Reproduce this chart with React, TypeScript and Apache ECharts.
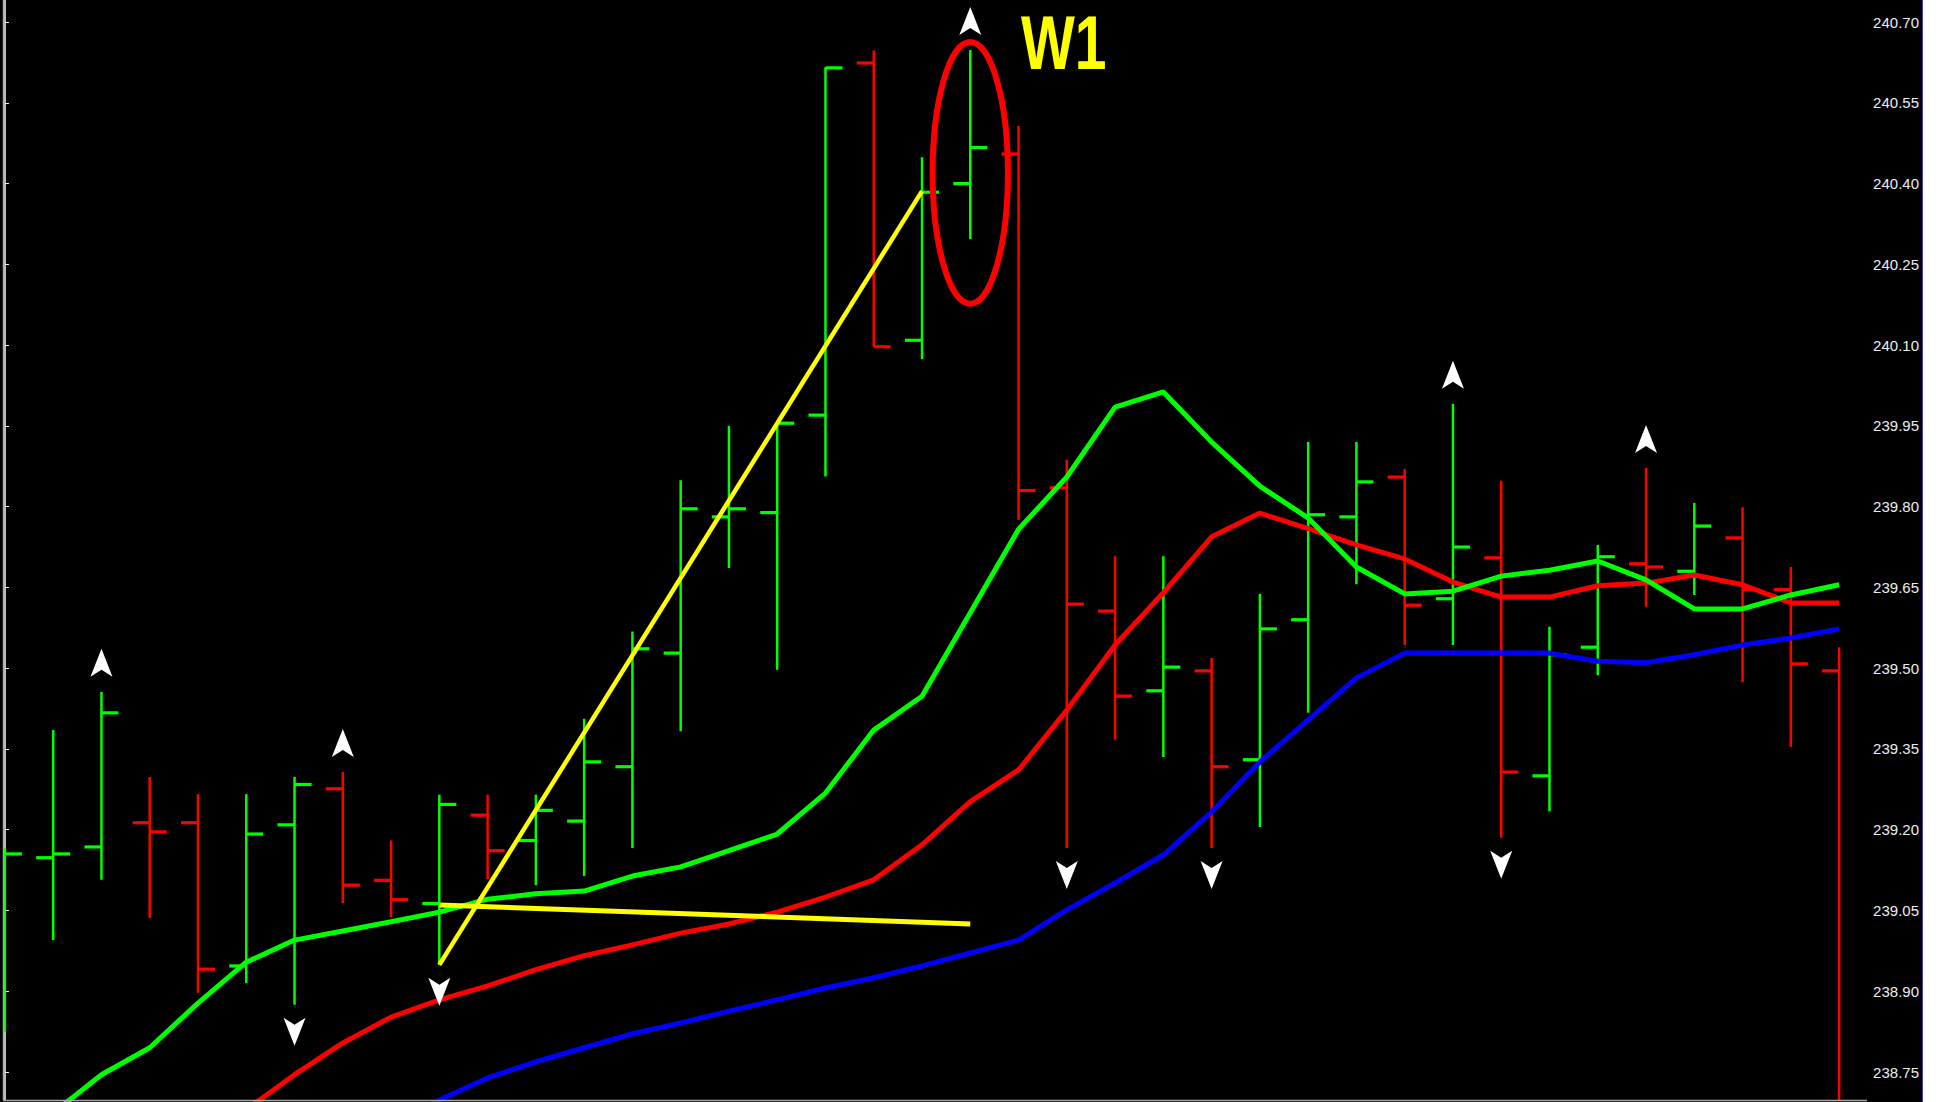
import React, { useEffect, useRef } from "react";
import * as echarts from "echarts";

// ---- data ----
const barOpen = [239.14, 239.148, 239.168, 239.213, 239.213, 238.947, 239.209, 239.276, 239.106, 239.063,
  239.227, 239.18, 239.216, 239.317, 239.528, 239.781, 239.789, 239.97, 240.624, 240.109,
  240.4, 240.455, 239.835, 239.606, 239.458, 239.495, 239.33, 239.59, 239.781, 239.855,
  239.629, 239.705, 239.3, 239.539, 239.694, 239.68, 239.742, 239.646, 239.495];
const barHigh = [239.166, 239.385, 239.456, 239.298, 239.266, 239.266, 239.298, 239.307, 239.18, 239.265,
  239.265, 239.265, 239.406, 239.568, 239.849, 239.95, 239.958, 240.616, 240.647, 240.449,
  240.648, 240.507, 239.887, 239.708, 239.708, 239.519, 239.638, 239.92, 239.92, 239.87,
  239.991, 239.848, 239.577, 239.729, 239.872, 239.807, 239.799, 239.688, 239.539];
const barLow = [238.824, 238.995, 239.107, 239.036, 238.897, 238.915, 238.875, 239.064, 239.038, 238.949,
  239.108, 239.097, 239.114, 239.166, 239.383, 239.686, 239.497, 239.856, 240.097, 240.074,
  240.297, 239.775, 239.166, 239.367, 239.335, 239.166, 239.205, 239.417, 239.656, 239.543,
  239.543, 239.185, 239.234, 239.487, 239.614, 239.636, 239.474, 239.354, 238.6];
const barClose = [239.155, 239.155, 239.417, 239.196, 238.941, 239.192, 239.284, 239.097, 239.07, 239.247,
  239.161, 239.236, 239.326, 239.536, 239.796, 239.796, 239.955, 240.615, 240.097, 240.384,
  240.467, 239.83, 239.619, 239.448, 239.502, 239.317, 239.573, 239.785, 239.846, 239.617,
  239.725, 239.307, 239.525, 239.707, 239.688, 239.764, 239.646, 239.508, 238.62];

const maGreen = [238.605, 238.674, 238.745, 238.795, 238.878, 238.954, 238.995, 239.012, 239.029, 239.047,
  239.071, 239.081, 239.086, 239.114, 239.131, 239.161, 239.192, 239.268, 239.385, 239.448,
  239.603, 239.758, 239.855, 239.985, 240.013, 239.92, 239.838, 239.779, 239.688, 239.638,
  239.643, 239.671, 239.682, 239.699, 239.664, 239.61, 239.61, 239.636, 239.655];
const maRed = [null, null, null, 238.54, 238.609, 238.68, 238.745, 238.804, 238.852, 238.884,
  238.91, 238.94, 238.966, 238.986, 239.008, 239.025, 239.047, 239.075, 239.107, 239.172,
  239.252, 239.311, 239.422, 239.543, 239.64, 239.744, 239.788, 239.759, 239.729, 239.703,
  239.66, 239.632, 239.632, 239.653, 239.658, 239.673, 239.655, 239.621, 239.621];
const maBlue = [null, null, null, null, null, null, null, 238.605, 238.652, 238.698,
  238.739, 238.769, 238.795, 238.821, 238.841, 238.863, 238.884, 238.906, 238.925, 238.947,
  238.971, 238.995, 239.051, 239.101, 239.153, 239.233, 239.326, 239.404, 239.482, 239.528,
  239.528, 239.528, 239.528, 239.513, 239.51, 239.525, 239.543, 239.556, 239.573];

const upFractalBars = [2, 7, 20, 30, 34];
const downFractalBars = [6, 9, 22, 25, 31];

const trendLine = [[9, 238.949], [19, 240.386]];
const flatLine = [[9, 239.06], [20, 239.025]];
const markEllipse = [[20, 240.42, 0.78, 0.243]];
const waveLabel = "W1";

const priceTicks = [240.7, 240.55, 240.4, 240.25, 240.1, 239.95, 239.8, 239.65, 239.5, 239.35, 239.2, 239.05, 238.9, 238.75];

const GREEN = "#00ff00";
const RED = "#ff0000";
const BLUE = "#0000ff";
const YELLOW = "#ffff00";

const UP_ARROW = "path://M10,0 L20,28 L10,21 L0,28 Z";
const DOWN_ARROW = "path://M10,28 L20,0 L10,7 L0,0 Z";

function App() {
  const ref = useRef<HTMLDivElement>(null);
  useEffect(() => {
    if (!ref.current) return;
    const chart = echarts.init(ref.current, null, { renderer: "svg" });
    const ohlc = barOpen.map((o, i) => [i, o, barHigh[i], barLow[i], barClose[i]]);
    const toLine = (arr: (number | null)[]) =>
      arr.map((v, i) => [i, v]).filter((d) => d[1] !== null);

    chart.setOption({
      animation: false,
      backgroundColor: "#000000",
      grid: { left: 3, right: 55, top: 0, bottom: 2, show: false },
      xAxis: {
        type: "value",
        min: -0.04,
        max: 38.56,
        show: false,
      },
      yAxis: {
        type: "value",
        position: "right",
        min: 238.698,
        max: 240.741,
        splitLine: { show: false },
        axisLine: { show: true, lineStyle: { color: "#ffffff", width: 1.5 } },
        axisTick: {
          show: true,
          length: 4,
          customValues: priceTicks,
          lineStyle: { color: "#ffffff", width: 1 },
        },
        axisLabel: {
          show: true,
          customValues: priceTicks,
          margin: 7,
          color: "#ececec",
          fontSize: 15,
          fontFamily: '"Liberation Sans", Arial, sans-serif',
          formatter: (v: number) => v.toFixed(2),
        },
      },
      graphic: [
        { type: "line", shape: { x1: 3.5, y1: 0, x2: 3.5, y2: 1100 }, style: { stroke: "#a8a8a8", lineWidth: 1.5 }, z: 100 },
        { type: "line", shape: { x1: 3, y1: 1100.5, x2: 1867, y2: 1100.5 }, style: { stroke: "#a8a8a8", lineWidth: 1.5 }, z: 100 },
        {
          type: "text",
          x: 1021,
          y: 42.5,
          scaleX: 0.75,
          z: 100,
          style: {
            text: waveLabel,
            fill: YELLOW,
            font: 'bold 76px "Liberation Sans", Arial, sans-serif',
            textAlign: "left",
            textVerticalAlign: "middle",
          },
        },
      ],
      series: [
        {
          type: "custom",
          name: "bars",
          clip: true,
          z: 2,
          data: ohlc,
          encode: { x: 0, y: [1, 2, 3, 4] },
          renderItem: (params: any, api: any) => {
            const i = api.value(0);
            const o = api.value(1);
            const h = api.value(2);
            const l = api.value(3);
            const c = api.value(4);
            const pH = api.coord([i, h]);
            const pL = api.coord([i, l]);
            const pO = api.coord([i, o]);
            const pC = api.coord([i, c]);
            const color = c >= o ? GREEN : RED;
            const tick = 17;
            return {
              type: "group",
              children: [
                { type: "line", shape: { x1: pH[0], y1: pH[1], x2: pL[0], y2: pL[1] }, style: { stroke: color, lineWidth: 2.5 } },
                { type: "line", shape: { x1: pO[0] - tick, y1: pO[1], x2: pO[0], y2: pO[1] }, style: { stroke: color, lineWidth: 3.2 } },
                { type: "line", shape: { x1: pC[0], y1: pC[1], x2: pC[0] + tick, y2: pC[1] }, style: { stroke: color, lineWidth: 3.2 } },
              ],
            };
          },
        },
        {
          type: "line",
          name: "MA slow",
          data: toLine(maBlue),
          showSymbol: false,
          clip: true,
          z: 3,
          lineStyle: { color: BLUE, width: 5 },
        },
        {
          type: "line",
          name: "MA mid",
          data: toLine(maRed),
          showSymbol: false,
          clip: true,
          z: 3,
          lineStyle: { color: RED, width: 5 },
        },
        {
          type: "line",
          name: "MA fast",
          data: toLine(maGreen),
          showSymbol: false,
          clip: true,
          z: 3,
          lineStyle: { color: GREEN, width: 5 },
        },
        {
          type: "line",
          name: "trend",
          data: trendLine,
          showSymbol: false,
          z: 4,
          lineStyle: { color: YELLOW, width: 4.5 },
        },
        {
          type: "line",
          name: "flat",
          data: flatLine,
          showSymbol: false,
          z: 4,
          lineStyle: { color: YELLOW, width: 5 },
        },
        {
          type: "custom",
          name: "ellipse",
          z: 5,
          data: markEllipse,
          encode: { x: 0, y: 1 },
          renderItem: (params: any, api: any) => {
            const p = api.coord([api.value(0), api.value(1)]);
            const s = api.size([api.value(2), api.value(3)]);
            return {
              type: "ellipse",
              shape: { cx: p[0], cy: p[1], rx: s[0], ry: s[1] },
              style: { fill: "none", stroke: RED, lineWidth: 6 },
            };
          },
        },
        {
          type: "scatter",
          name: "up fractals",
          z: 6,
          symbol: UP_ARROW,
          symbolSize: [22, 28],
          symbolOffset: [0, -29],
          itemStyle: { color: "#ffffff", opacity: 1 },
          data: upFractalBars.map((i) => [i, barHigh[i]]),
        },
        {
          type: "scatter",
          name: "down fractals",
          z: 6,
          symbol: DOWN_ARROW,
          symbolSize: [22, 28],
          symbolOffset: [0, 27],
          itemStyle: { color: "#ffffff", opacity: 1 },
          data: downFractalBars.map((i) => [i, barLow[i]]),
        },
      ],
    });
    return () => chart.dispose();
  }, []);

  return (
    <div style={{ position: "fixed", left: 0, top: 0, width: 1943, height: 1102, background: "#ffffff" }}>
      <div ref={ref} style={{ position: "absolute", left: 0, top: 0, width: 1922, height: 1102, background: "#000000" }} />
      <div style={{ position: "absolute", left: 1922, top: 0, width: 1, height: 1102, background: "#3c3cb4" }} />
    </div>
  );
}

export default App;
